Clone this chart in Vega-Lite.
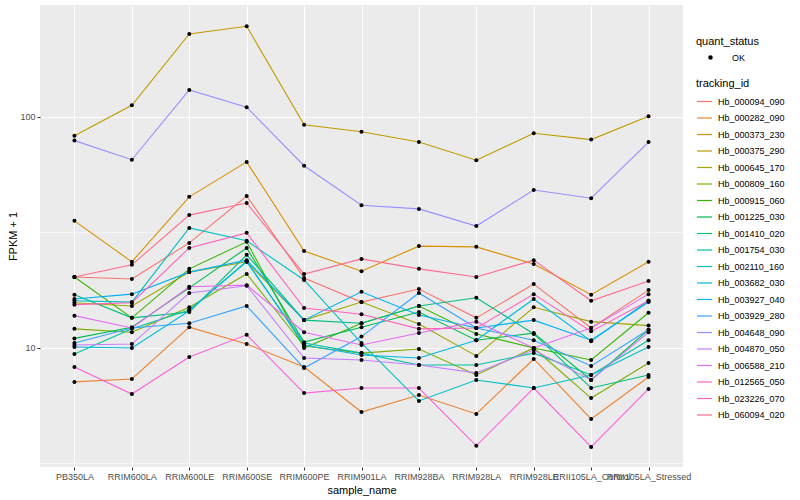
{
"$schema": "https://vega.github.io/schema/vega-lite/v6.json",
"autosize": {"type": "none"},
"padding": {"left": 40, "top": 5, "right": 117, "bottom": 33},
"width": 643,
"height": 462,
"background": "white",
"config": {
  "font": "Liberation Sans",
  "view": {"fill": "#EBEBEB", "stroke": null},
  "axis": {"domain": false, "gridColor": "white", "gridWidth": 1.1, "tickColor": "#333333", "tickSize": 3, "labelColor": "#4D4D4D", "labelFontSize": 9, "labelFont": "Liberation Sans", "titleFont": "Liberation Sans", "titleFontSize": 11, "titleFontWeight": "normal", "titleColor": "black", "labelPadding": 2},
  "legend": {"titleFont": "Liberation Sans", "titleFontSize": 11, "titleFontWeight": "normal", "titleColor": "black", "labelFont": "Liberation Sans", "labelFontSize": 9, "labelColor": "black"}
},
"data": {"values": [
{"tracking_id":"Hb_000094_090","sample_name":"PB350LA","fpkm":20.3,"quant_status":"OK"},
{"tracking_id":"Hb_000094_090","sample_name":"RRIM600LA","fpkm":19.9,"quant_status":"OK"},
{"tracking_id":"Hb_000094_090","sample_name":"RRIM600LE","fpkm":28.5,"quant_status":"OK"},
{"tracking_id":"Hb_000094_090","sample_name":"RRIM600SE","fpkm":45.5,"quant_status":"OK"},
{"tracking_id":"Hb_000094_090","sample_name":"RRIM600PE","fpkm":20.1,"quant_status":"OK"},
{"tracking_id":"Hb_000094_090","sample_name":"RRIM901LA","fpkm":15.8,"quant_status":"OK"},
{"tracking_id":"Hb_000094_090","sample_name":"RRIM928BA","fpkm":18.0,"quant_status":"OK"},
{"tracking_id":"Hb_000094_090","sample_name":"RRIM928LA","fpkm":13.5,"quant_status":"OK"},
{"tracking_id":"Hb_000094_090","sample_name":"RRIM928LE","fpkm":18.9,"quant_status":"OK"},
{"tracking_id":"Hb_000094_090","sample_name":"RRII105LA_Control","fpkm":12.2,"quant_status":"OK"},
{"tracking_id":"Hb_000094_090","sample_name":"RRII105LA_Stressed","fpkm":17.8,"quant_status":"OK"},
{"tracking_id":"Hb_000282_090","sample_name":"PB350LA","fpkm":7.13,"quant_status":"OK"},
{"tracking_id":"Hb_000282_090","sample_name":"RRIM600LA","fpkm":7.34,"quant_status":"OK"},
{"tracking_id":"Hb_000282_090","sample_name":"RRIM600LE","fpkm":12.3,"quant_status":"OK"},
{"tracking_id":"Hb_000282_090","sample_name":"RRIM600SE","fpkm":10.4,"quant_status":"OK"},
{"tracking_id":"Hb_000282_090","sample_name":"RRIM600PE","fpkm":8.27,"quant_status":"OK"},
{"tracking_id":"Hb_000282_090","sample_name":"RRIM901LA","fpkm":5.28,"quant_status":"OK"},
{"tracking_id":"Hb_000282_090","sample_name":"RRIM928BA","fpkm":6.26,"quant_status":"OK"},
{"tracking_id":"Hb_000282_090","sample_name":"RRIM928LA","fpkm":5.18,"quant_status":"OK"},
{"tracking_id":"Hb_000282_090","sample_name":"RRIM928LE","fpkm":8.96,"quant_status":"OK"},
{"tracking_id":"Hb_000282_090","sample_name":"RRII105LA_Control","fpkm":4.93,"quant_status":"OK"},
{"tracking_id":"Hb_000282_090","sample_name":"RRII105LA_Stressed","fpkm":7.49,"quant_status":"OK"},
{"tracking_id":"Hb_000373_230","sample_name":"PB350LA","fpkm":35.5,"quant_status":"OK"},
{"tracking_id":"Hb_000373_230","sample_name":"RRIM600LA","fpkm":23.6,"quant_status":"OK"},
{"tracking_id":"Hb_000373_230","sample_name":"RRIM600LE","fpkm":45.1,"quant_status":"OK"},
{"tracking_id":"Hb_000373_230","sample_name":"RRIM600SE","fpkm":63.9,"quant_status":"OK"},
{"tracking_id":"Hb_000373_230","sample_name":"RRIM600PE","fpkm":26.3,"quant_status":"OK"},
{"tracking_id":"Hb_000373_230","sample_name":"RRIM901LA","fpkm":21.5,"quant_status":"OK"},
{"tracking_id":"Hb_000373_230","sample_name":"RRIM928BA","fpkm":27.6,"quant_status":"OK"},
{"tracking_id":"Hb_000373_230","sample_name":"RRIM928LA","fpkm":27.4,"quant_status":"OK"},
{"tracking_id":"Hb_000373_230","sample_name":"RRIM928LE","fpkm":23.1,"quant_status":"OK"},
{"tracking_id":"Hb_000373_230","sample_name":"RRII105LA_Control","fpkm":17.0,"quant_status":"OK"},
{"tracking_id":"Hb_000373_230","sample_name":"RRII105LA_Stressed","fpkm":23.6,"quant_status":"OK"},
{"tracking_id":"Hb_000375_290","sample_name":"PB350LA","fpkm":83.0,"quant_status":"OK"},
{"tracking_id":"Hb_000375_290","sample_name":"RRIM600LA","fpkm":112.3,"quant_status":"OK"},
{"tracking_id":"Hb_000375_290","sample_name":"RRIM600LE","fpkm":228.7,"quant_status":"OK"},
{"tracking_id":"Hb_000375_290","sample_name":"RRIM600SE","fpkm":247.0,"quant_status":"OK"},
{"tracking_id":"Hb_000375_290","sample_name":"RRIM600PE","fpkm":92.6,"quant_status":"OK"},
{"tracking_id":"Hb_000375_290","sample_name":"RRIM901LA","fpkm":86.3,"quant_status":"OK"},
{"tracking_id":"Hb_000375_290","sample_name":"RRIM928BA","fpkm":77.9,"quant_status":"OK"},
{"tracking_id":"Hb_000375_290","sample_name":"RRIM928LA","fpkm":65.0,"quant_status":"OK"},
{"tracking_id":"Hb_000375_290","sample_name":"RRIM928LE","fpkm":85.0,"quant_status":"OK"},
{"tracking_id":"Hb_000375_290","sample_name":"RRII105LA_Control","fpkm":79.8,"quant_status":"OK"},
{"tracking_id":"Hb_000375_290","sample_name":"RRII105LA_Stressed","fpkm":100.7,"quant_status":"OK"},
{"tracking_id":"Hb_000645_170","sample_name":"PB350LA","fpkm":15.7,"quant_status":"OK"},
{"tracking_id":"Hb_000645_170","sample_name":"RRIM600LA","fpkm":15.2,"quant_status":"OK"},
{"tracking_id":"Hb_000645_170","sample_name":"RRIM600LE","fpkm":21.3,"quant_status":"OK"},
{"tracking_id":"Hb_000645_170","sample_name":"RRIM600SE","fpkm":23.6,"quant_status":"OK"},
{"tracking_id":"Hb_000645_170","sample_name":"RRIM600PE","fpkm":13.2,"quant_status":"OK"},
{"tracking_id":"Hb_000645_170","sample_name":"RRIM901LA","fpkm":15.8,"quant_status":"OK"},
{"tracking_id":"Hb_000645_170","sample_name":"RRIM928BA","fpkm":12.7,"quant_status":"OK"},
{"tracking_id":"Hb_000645_170","sample_name":"RRIM928LA","fpkm":9.24,"quant_status":"OK"},
{"tracking_id":"Hb_000645_170","sample_name":"RRIM928LE","fpkm":15.0,"quant_status":"OK"},
{"tracking_id":"Hb_000645_170","sample_name":"RRII105LA_Control","fpkm":13.0,"quant_status":"OK"},
{"tracking_id":"Hb_000645_170","sample_name":"RRII105LA_Stressed","fpkm":12.5,"quant_status":"OK"},
{"tracking_id":"Hb_000809_160","sample_name":"PB350LA","fpkm":12.1,"quant_status":"OK"},
{"tracking_id":"Hb_000809_160","sample_name":"RRIM600LA","fpkm":11.7,"quant_status":"OK"},
{"tracking_id":"Hb_000809_160","sample_name":"RRIM600LE","fpkm":15.0,"quant_status":"OK"},
{"tracking_id":"Hb_000809_160","sample_name":"RRIM600SE","fpkm":20.9,"quant_status":"OK"},
{"tracking_id":"Hb_000809_160","sample_name":"RRIM600PE","fpkm":10.2,"quant_status":"OK"},
{"tracking_id":"Hb_000809_160","sample_name":"RRIM901LA","fpkm":9.5,"quant_status":"OK"},
{"tracking_id":"Hb_000809_160","sample_name":"RRIM928BA","fpkm":9.9,"quant_status":"OK"},
{"tracking_id":"Hb_000809_160","sample_name":"RRIM928LA","fpkm":7.64,"quant_status":"OK"},
{"tracking_id":"Hb_000809_160","sample_name":"RRIM928LE","fpkm":10.0,"quant_status":"OK"},
{"tracking_id":"Hb_000809_160","sample_name":"RRII105LA_Control","fpkm":6.07,"quant_status":"OK"},
{"tracking_id":"Hb_000809_160","sample_name":"RRII105LA_Stressed","fpkm":8.61,"quant_status":"OK"},
{"tracking_id":"Hb_000915_060","sample_name":"PB350LA","fpkm":20.3,"quant_status":"OK"},
{"tracking_id":"Hb_000915_060","sample_name":"RRIM600LA","fpkm":13.5,"quant_status":"OK"},
{"tracking_id":"Hb_000915_060","sample_name":"RRIM600LE","fpkm":22.0,"quant_status":"OK"},
{"tracking_id":"Hb_000915_060","sample_name":"RRIM600SE","fpkm":28.8,"quant_status":"OK"},
{"tracking_id":"Hb_000915_060","sample_name":"RRIM600PE","fpkm":10.0,"quant_status":"OK"},
{"tracking_id":"Hb_000915_060","sample_name":"RRIM901LA","fpkm":12.8,"quant_status":"OK"},
{"tracking_id":"Hb_000915_060","sample_name":"RRIM928BA","fpkm":15.2,"quant_status":"OK"},
{"tracking_id":"Hb_000915_060","sample_name":"RRIM928LA","fpkm":11.5,"quant_status":"OK"},
{"tracking_id":"Hb_000915_060","sample_name":"RRIM928LE","fpkm":10.0,"quant_status":"OK"},
{"tracking_id":"Hb_000915_060","sample_name":"RRII105LA_Control","fpkm":8.87,"quant_status":"OK"},
{"tracking_id":"Hb_000915_060","sample_name":"RRII105LA_Stressed","fpkm":14.2,"quant_status":"OK"},
{"tracking_id":"Hb_001225_030","sample_name":"PB350LA","fpkm":11.0,"quant_status":"OK"},
{"tracking_id":"Hb_001225_030","sample_name":"RRIM600LA","fpkm":12.3,"quant_status":"OK"},
{"tracking_id":"Hb_001225_030","sample_name":"RRIM600LE","fpkm":18.2,"quant_status":"OK"},
{"tracking_id":"Hb_001225_030","sample_name":"RRIM600SE","fpkm":27.1,"quant_status":"OK"},
{"tracking_id":"Hb_001225_030","sample_name":"RRIM600PE","fpkm":10.6,"quant_status":"OK"},
{"tracking_id":"Hb_001225_030","sample_name":"RRIM901LA","fpkm":12.3,"quant_status":"OK"},
{"tracking_id":"Hb_001225_030","sample_name":"RRIM928BA","fpkm":14.3,"quant_status":"OK"},
{"tracking_id":"Hb_001225_030","sample_name":"RRIM928LA","fpkm":10.8,"quant_status":"OK"},
{"tracking_id":"Hb_001225_030","sample_name":"RRIM928LE","fpkm":11.6,"quant_status":"OK"},
{"tracking_id":"Hb_001225_030","sample_name":"RRII105LA_Control","fpkm":7.27,"quant_status":"OK"},
{"tracking_id":"Hb_001225_030","sample_name":"RRII105LA_Stressed","fpkm":12.0,"quant_status":"OK"},
{"tracking_id":"Hb_001410_020","sample_name":"PB350LA","fpkm":17.0,"quant_status":"OK"},
{"tracking_id":"Hb_001410_020","sample_name":"RRIM600LA","fpkm":13.5,"quant_status":"OK"},
{"tracking_id":"Hb_001410_020","sample_name":"RRIM600LE","fpkm":14.3,"quant_status":"OK"},
{"tracking_id":"Hb_001410_020","sample_name":"RRIM600SE","fpkm":25.3,"quant_status":"OK"},
{"tracking_id":"Hb_001410_020","sample_name":"RRIM600PE","fpkm":13.2,"quant_status":"OK"},
{"tracking_id":"Hb_001410_020","sample_name":"RRIM901LA","fpkm":12.8,"quant_status":"OK"},
{"tracking_id":"Hb_001410_020","sample_name":"RRIM928BA","fpkm":15.2,"quant_status":"OK"},
{"tracking_id":"Hb_001410_020","sample_name":"RRIM928LA","fpkm":16.5,"quant_status":"OK"},
{"tracking_id":"Hb_001410_020","sample_name":"RRIM928LE","fpkm":11.5,"quant_status":"OK"},
{"tracking_id":"Hb_001410_020","sample_name":"RRII105LA_Control","fpkm":6.71,"quant_status":"OK"},
{"tracking_id":"Hb_001410_020","sample_name":"RRII105LA_Stressed","fpkm":7.64,"quant_status":"OK"},
{"tracking_id":"Hb_001754_030","sample_name":"PB350LA","fpkm":9.42,"quant_status":"OK"},
{"tracking_id":"Hb_001754_030","sample_name":"RRIM600LA","fpkm":12.1,"quant_status":"OK"},
{"tracking_id":"Hb_001754_030","sample_name":"RRIM600LE","fpkm":14.6,"quant_status":"OK"},
{"tracking_id":"Hb_001754_030","sample_name":"RRIM600SE","fpkm":23.6,"quant_status":"OK"},
{"tracking_id":"Hb_001754_030","sample_name":"RRIM600PE","fpkm":10.5,"quant_status":"OK"},
{"tracking_id":"Hb_001754_030","sample_name":"RRIM901LA","fpkm":9.5,"quant_status":"OK"},
{"tracking_id":"Hb_001754_030","sample_name":"RRIM928BA","fpkm":8.44,"quant_status":"OK"},
{"tracking_id":"Hb_001754_030","sample_name":"RRIM928LA","fpkm":8.44,"quant_status":"OK"},
{"tracking_id":"Hb_001754_030","sample_name":"RRIM928LE","fpkm":9.5,"quant_status":"OK"},
{"tracking_id":"Hb_001754_030","sample_name":"RRII105LA_Control","fpkm":7.64,"quant_status":"OK"},
{"tracking_id":"Hb_001754_030","sample_name":"RRII105LA_Stressed","fpkm":10.8,"quant_status":"OK"},
{"tracking_id":"Hb_002110_160","sample_name":"PB350LA","fpkm":16.0,"quant_status":"OK"},
{"tracking_id":"Hb_002110_160","sample_name":"RRIM600LA","fpkm":15.8,"quant_status":"OK"},
{"tracking_id":"Hb_002110_160","sample_name":"RRIM600LE","fpkm":33.1,"quant_status":"OK"},
{"tracking_id":"Hb_002110_160","sample_name":"RRIM600SE","fpkm":29.1,"quant_status":"OK"},
{"tracking_id":"Hb_002110_160","sample_name":"RRIM600PE","fpkm":19.7,"quant_status":"OK"},
{"tracking_id":"Hb_002110_160","sample_name":"RRIM901LA","fpkm":10.5,"quant_status":"OK"},
{"tracking_id":"Hb_002110_160","sample_name":"RRIM928BA","fpkm":5.9,"quant_status":"OK"},
{"tracking_id":"Hb_002110_160","sample_name":"RRIM928LA","fpkm":7.27,"quant_status":"OK"},
{"tracking_id":"Hb_002110_160","sample_name":"RRIM928LE","fpkm":6.71,"quant_status":"OK"},
{"tracking_id":"Hb_002110_160","sample_name":"RRII105LA_Control","fpkm":7.64,"quant_status":"OK"},
{"tracking_id":"Hb_002110_160","sample_name":"RRII105LA_Stressed","fpkm":10.1,"quant_status":"OK"},
{"tracking_id":"Hb_003682_030","sample_name":"PB350LA","fpkm":10.1,"quant_status":"OK"},
{"tracking_id":"Hb_003682_030","sample_name":"RRIM600LA","fpkm":10.0,"quant_status":"OK"},
{"tracking_id":"Hb_003682_030","sample_name":"RRIM600LE","fpkm":14.5,"quant_status":"OK"},
{"tracking_id":"Hb_003682_030","sample_name":"RRIM600SE","fpkm":23.8,"quant_status":"OK"},
{"tracking_id":"Hb_003682_030","sample_name":"RRIM600PE","fpkm":10.3,"quant_status":"OK"},
{"tracking_id":"Hb_003682_030","sample_name":"RRIM901LA","fpkm":9.33,"quant_status":"OK"},
{"tracking_id":"Hb_003682_030","sample_name":"RRIM928BA","fpkm":9.05,"quant_status":"OK"},
{"tracking_id":"Hb_003682_030","sample_name":"RRIM928LA","fpkm":10.8,"quant_status":"OK"},
{"tracking_id":"Hb_003682_030","sample_name":"RRIM928LE","fpkm":16.3,"quant_status":"OK"},
{"tracking_id":"Hb_003682_030","sample_name":"RRII105LA_Control","fpkm":10.7,"quant_status":"OK"},
{"tracking_id":"Hb_003682_030","sample_name":"RRII105LA_Stressed","fpkm":16.0,"quant_status":"OK"},
{"tracking_id":"Hb_003927_040","sample_name":"PB350LA","fpkm":16.3,"quant_status":"OK"},
{"tracking_id":"Hb_003927_040","sample_name":"RRIM600LA","fpkm":17.1,"quant_status":"OK"},
{"tracking_id":"Hb_003927_040","sample_name":"RRIM600LE","fpkm":21.3,"quant_status":"OK"},
{"tracking_id":"Hb_003927_040","sample_name":"RRIM600SE","fpkm":24.0,"quant_status":"OK"},
{"tracking_id":"Hb_003927_040","sample_name":"RRIM600PE","fpkm":13.2,"quant_status":"OK"},
{"tracking_id":"Hb_003927_040","sample_name":"RRIM901LA","fpkm":17.5,"quant_status":"OK"},
{"tracking_id":"Hb_003927_040","sample_name":"RRIM928BA","fpkm":13.9,"quant_status":"OK"},
{"tracking_id":"Hb_003927_040","sample_name":"RRIM928LA","fpkm":12.2,"quant_status":"OK"},
{"tracking_id":"Hb_003927_040","sample_name":"RRIM928LE","fpkm":13.2,"quant_status":"OK"},
{"tracking_id":"Hb_003927_040","sample_name":"RRII105LA_Control","fpkm":10.8,"quant_status":"OK"},
{"tracking_id":"Hb_003927_040","sample_name":"RRII105LA_Stressed","fpkm":15.8,"quant_status":"OK"},
{"tracking_id":"Hb_003929_280","sample_name":"PB350LA","fpkm":10.5,"quant_status":"OK"},
{"tracking_id":"Hb_003929_280","sample_name":"RRIM600LA","fpkm":12.2,"quant_status":"OK"},
{"tracking_id":"Hb_003929_280","sample_name":"RRIM600LE","fpkm":12.8,"quant_status":"OK"},
{"tracking_id":"Hb_003929_280","sample_name":"RRIM600SE","fpkm":15.2,"quant_status":"OK"},
{"tracking_id":"Hb_003929_280","sample_name":"RRIM600PE","fpkm":8.19,"quant_status":"OK"},
{"tracking_id":"Hb_003929_280","sample_name":"RRIM901LA","fpkm":11.2,"quant_status":"OK"},
{"tracking_id":"Hb_003929_280","sample_name":"RRIM928BA","fpkm":17.3,"quant_status":"OK"},
{"tracking_id":"Hb_003929_280","sample_name":"RRIM928LA","fpkm":12.2,"quant_status":"OK"},
{"tracking_id":"Hb_003929_280","sample_name":"RRIM928LE","fpkm":10.8,"quant_status":"OK"},
{"tracking_id":"Hb_003929_280","sample_name":"RRII105LA_Control","fpkm":8.36,"quant_status":"OK"},
{"tracking_id":"Hb_003929_280","sample_name":"RRII105LA_Stressed","fpkm":12.0,"quant_status":"OK"},
{"tracking_id":"Hb_004648_090","sample_name":"PB350LA","fpkm":79.0,"quant_status":"OK"},
{"tracking_id":"Hb_004648_090","sample_name":"RRIM600LA","fpkm":65.3,"quant_status":"OK"},
{"tracking_id":"Hb_004648_090","sample_name":"RRIM600LE","fpkm":130.9,"quant_status":"OK"},
{"tracking_id":"Hb_004648_090","sample_name":"RRIM600SE","fpkm":110.2,"quant_status":"OK"},
{"tracking_id":"Hb_004648_090","sample_name":"RRIM600PE","fpkm":61.5,"quant_status":"OK"},
{"tracking_id":"Hb_004648_090","sample_name":"RRIM901LA","fpkm":41.5,"quant_status":"OK"},
{"tracking_id":"Hb_004648_090","sample_name":"RRIM928BA","fpkm":40.0,"quant_status":"OK"},
{"tracking_id":"Hb_004648_090","sample_name":"RRIM928LA","fpkm":33.7,"quant_status":"OK"},
{"tracking_id":"Hb_004648_090","sample_name":"RRIM928LE","fpkm":48.3,"quant_status":"OK"},
{"tracking_id":"Hb_004648_090","sample_name":"RRII105LA_Control","fpkm":44.5,"quant_status":"OK"},
{"tracking_id":"Hb_004648_090","sample_name":"RRII105LA_Stressed","fpkm":77.9,"quant_status":"OK"},
{"tracking_id":"Hb_004870_050","sample_name":"PB350LA","fpkm":10.3,"quant_status":"OK"},
{"tracking_id":"Hb_004870_050","sample_name":"RRIM600LA","fpkm":10.4,"quant_status":"OK"},
{"tracking_id":"Hb_004870_050","sample_name":"RRIM600LE","fpkm":17.3,"quant_status":"OK"},
{"tracking_id":"Hb_004870_050","sample_name":"RRIM600SE","fpkm":18.6,"quant_status":"OK"},
{"tracking_id":"Hb_004870_050","sample_name":"RRIM600PE","fpkm":9.05,"quant_status":"OK"},
{"tracking_id":"Hb_004870_050","sample_name":"RRIM901LA","fpkm":8.87,"quant_status":"OK"},
{"tracking_id":"Hb_004870_050","sample_name":"RRIM928BA","fpkm":8.44,"quant_status":"OK"},
{"tracking_id":"Hb_004870_050","sample_name":"RRIM928LA","fpkm":7.8,"quant_status":"OK"},
{"tracking_id":"Hb_004870_050","sample_name":"RRIM928LE","fpkm":9.8,"quant_status":"OK"},
{"tracking_id":"Hb_004870_050","sample_name":"RRII105LA_Control","fpkm":7.27,"quant_status":"OK"},
{"tracking_id":"Hb_004870_050","sample_name":"RRII105LA_Stressed","fpkm":11.7,"quant_status":"OK"},
{"tracking_id":"Hb_006588_210","sample_name":"PB350LA","fpkm":13.8,"quant_status":"OK"},
{"tracking_id":"Hb_006588_210","sample_name":"RRIM600LA","fpkm":12.2,"quant_status":"OK"},
{"tracking_id":"Hb_006588_210","sample_name":"RRIM600LE","fpkm":18.4,"quant_status":"OK"},
{"tracking_id":"Hb_006588_210","sample_name":"RRIM600SE","fpkm":18.7,"quant_status":"OK"},
{"tracking_id":"Hb_006588_210","sample_name":"RRIM600PE","fpkm":11.7,"quant_status":"OK"},
{"tracking_id":"Hb_006588_210","sample_name":"RRIM901LA","fpkm":10.3,"quant_status":"OK"},
{"tracking_id":"Hb_006588_210","sample_name":"RRIM928BA","fpkm":11.6,"quant_status":"OK"},
{"tracking_id":"Hb_006588_210","sample_name":"RRIM928LA","fpkm":13.0,"quant_status":"OK"},
{"tracking_id":"Hb_006588_210","sample_name":"RRIM928LE","fpkm":10.0,"quant_status":"OK"},
{"tracking_id":"Hb_006588_210","sample_name":"RRII105LA_Control","fpkm":12.2,"quant_status":"OK"},
{"tracking_id":"Hb_006588_210","sample_name":"RRII105LA_Stressed","fpkm":17.1,"quant_status":"OK"},
{"tracking_id":"Hb_012565_050","sample_name":"PB350LA","fpkm":8.27,"quant_status":"OK"},
{"tracking_id":"Hb_012565_050","sample_name":"RRIM600LA","fpkm":6.32,"quant_status":"OK"},
{"tracking_id":"Hb_012565_050","sample_name":"RRIM600LE","fpkm":9.14,"quant_status":"OK"},
{"tracking_id":"Hb_012565_050","sample_name":"RRIM600SE","fpkm":11.4,"quant_status":"OK"},
{"tracking_id":"Hb_012565_050","sample_name":"RRIM600PE","fpkm":6.38,"quant_status":"OK"},
{"tracking_id":"Hb_012565_050","sample_name":"RRIM901LA","fpkm":6.71,"quant_status":"OK"},
{"tracking_id":"Hb_012565_050","sample_name":"RRIM928BA","fpkm":6.71,"quant_status":"OK"},
{"tracking_id":"Hb_012565_050","sample_name":"RRIM928LA","fpkm":3.77,"quant_status":"OK"},
{"tracking_id":"Hb_012565_050","sample_name":"RRIM928LE","fpkm":6.71,"quant_status":"OK"},
{"tracking_id":"Hb_012565_050","sample_name":"RRII105LA_Control","fpkm":3.73,"quant_status":"OK"},
{"tracking_id":"Hb_012565_050","sample_name":"RRII105LA_Stressed","fpkm":6.65,"quant_status":"OK"},
{"tracking_id":"Hb_023226_070","sample_name":"PB350LA","fpkm":15.4,"quant_status":"OK"},
{"tracking_id":"Hb_023226_070","sample_name":"RRIM600LA","fpkm":15.7,"quant_status":"OK"},
{"tracking_id":"Hb_023226_070","sample_name":"RRIM600LE","fpkm":27.1,"quant_status":"OK"},
{"tracking_id":"Hb_023226_070","sample_name":"RRIM600SE","fpkm":31.5,"quant_status":"OK"},
{"tracking_id":"Hb_023226_070","sample_name":"RRIM600PE","fpkm":14.9,"quant_status":"OK"},
{"tracking_id":"Hb_023226_070","sample_name":"RRIM901LA","fpkm":14.0,"quant_status":"OK"},
{"tracking_id":"Hb_023226_070","sample_name":"RRIM928BA","fpkm":12.1,"quant_status":"OK"},
{"tracking_id":"Hb_023226_070","sample_name":"RRIM928LA","fpkm":12.2,"quant_status":"OK"},
{"tracking_id":"Hb_023226_070","sample_name":"RRIM928LE","fpkm":17.1,"quant_status":"OK"},
{"tracking_id":"Hb_023226_070","sample_name":"RRII105LA_Control","fpkm":11.8,"quant_status":"OK"},
{"tracking_id":"Hb_023226_070","sample_name":"RRII105LA_Stressed","fpkm":16.0,"quant_status":"OK"},
{"tracking_id":"Hb_060094_020","sample_name":"PB350LA","fpkm":20.3,"quant_status":"OK"},
{"tracking_id":"Hb_060094_020","sample_name":"RRIM600LA","fpkm":22.9,"quant_status":"OK"},
{"tracking_id":"Hb_060094_020","sample_name":"RRIM600LE","fpkm":37.6,"quant_status":"OK"},
{"tracking_id":"Hb_060094_020","sample_name":"RRIM600SE","fpkm":42.4,"quant_status":"OK"},
{"tracking_id":"Hb_060094_020","sample_name":"RRIM600PE","fpkm":20.9,"quant_status":"OK"},
{"tracking_id":"Hb_060094_020","sample_name":"RRIM901LA","fpkm":24.3,"quant_status":"OK"},
{"tracking_id":"Hb_060094_020","sample_name":"RRIM928BA","fpkm":22.0,"quant_status":"OK"},
{"tracking_id":"Hb_060094_020","sample_name":"RRIM928LA","fpkm":20.3,"quant_status":"OK"},
{"tracking_id":"Hb_060094_020","sample_name":"RRIM928LE","fpkm":24.0,"quant_status":"OK"},
{"tracking_id":"Hb_060094_020","sample_name":"RRII105LA_Control","fpkm":16.0,"quant_status":"OK"},
{"tracking_id":"Hb_060094_020","sample_name":"RRII105LA_Stressed","fpkm":19.5,"quant_status":"OK"}
]},
"layer": [
  {
    "data": {"values": [{"fpkm": 3.162}, {"fpkm": 31.62}]},
    "mark": {"type": "rule", "color": "white", "strokeWidth": 0.55},
    "encoding": {
      "y": {"field": "fpkm", "type": "quantitative", "scale": {"type": "log", "domain": [3.053, 305.3], "nice": false, "zero": false}, "axis": {"values": [10, 100], "format": "d", "title": "FPKM + 1", "titlePadding": 1}}
    }
  },
  {
    "mark": {"type": "line", "strokeWidth": 1.1},
    "encoding": {
      "x": {"field": "sample_name", "type": "nominal", "sort": ["PB350LA","RRIM600LA","RRIM600LE","RRIM600SE","RRIM600PE","RRIM901LA","RRIM928BA","RRIM928LA","RRIM928LE","RRII105LA_Control","RRII105LA_Stressed"], "scale": {"type": "point", "padding": 0.6}, "axis": {"labelAngle": 0, "labelOverlap": false, "labelLimit": 0, "grid": true, "title": "sample_name", "titlePadding": 3}},
      "y": {"field": "fpkm", "type": "quantitative", "scale": {"type": "log", "domain": [3.053, 305.3], "nice": false, "zero": false}, "axis": {"values": [10, 100], "format": "d", "title": "FPKM + 1", "titlePadding": 1}},
      "stroke": {"field": "tracking_id", "type": "nominal",
        "scale": {"domain": ["Hb_000094_090","Hb_000282_090","Hb_000373_230","Hb_000375_290","Hb_000645_170","Hb_000809_160","Hb_000915_060","Hb_001225_030","Hb_001410_020","Hb_001754_030","Hb_002110_160","Hb_003682_030","Hb_003927_040","Hb_003929_280","Hb_004648_090","Hb_004870_050","Hb_006588_210","Hb_012565_050","Hb_023226_070","Hb_060094_020"],
                  "range": ["#F8766D","#EA8331","#D89000","#C09B00","#A3A500","#7CAE00","#39B600","#00BB4E","#00BF7D","#00C1A3","#00BFC4","#00BAE0","#00B0F6","#35A2FF","#9590FF","#C77CFF","#E76BF3","#FA62DB","#FF62BC","#FF6C91"]},
        "legend": {"title": "tracking_id", "orient": "none", "legendX": 656, "legendY": 73, "symbolType": "stroke", "symbolSize": 225, "symbolStrokeWidth": 1.2, "rowPadding": 2.5, "titlePadding": 4, "labelOffset": 5}},
      "order": {"value": null}
    }
  },
  {
    "mark": {"type": "point", "filled": true, "size": 16, "opacity": 1},
    "encoding": {
      "x": {"field": "sample_name", "type": "nominal", "sort": ["PB350LA","RRIM600LA","RRIM600LE","RRIM600SE","RRIM600PE","RRIM901LA","RRIM928BA","RRIM928LA","RRIM928LE","RRII105LA_Control","RRII105LA_Stressed"], "scale": {"type": "point", "padding": 0.6}, "axis": {"labelAngle": 0, "labelOverlap": false, "labelLimit": 0, "grid": true, "title": "sample_name", "titlePadding": 3}},
      "y": {"field": "fpkm", "type": "quantitative", "scale": {"type": "log", "domain": [3.053, 305.3], "nice": false, "zero": false}, "axis": {"values": [10, 100], "format": "d", "title": "FPKM + 1", "titlePadding": 1}},
      "color": {"field": "quant_status", "type": "nominal", "scale": {"range": ["black"]},
        "legend": {"title": "quant_status", "orient": "none", "legendX": 656, "legendY": 31, "symbolType": "circle", "symbolSize": 20, "titlePadding": 6, "symbolOffset": 10, "labelOffset": 17}}
    }
  }
]
}
